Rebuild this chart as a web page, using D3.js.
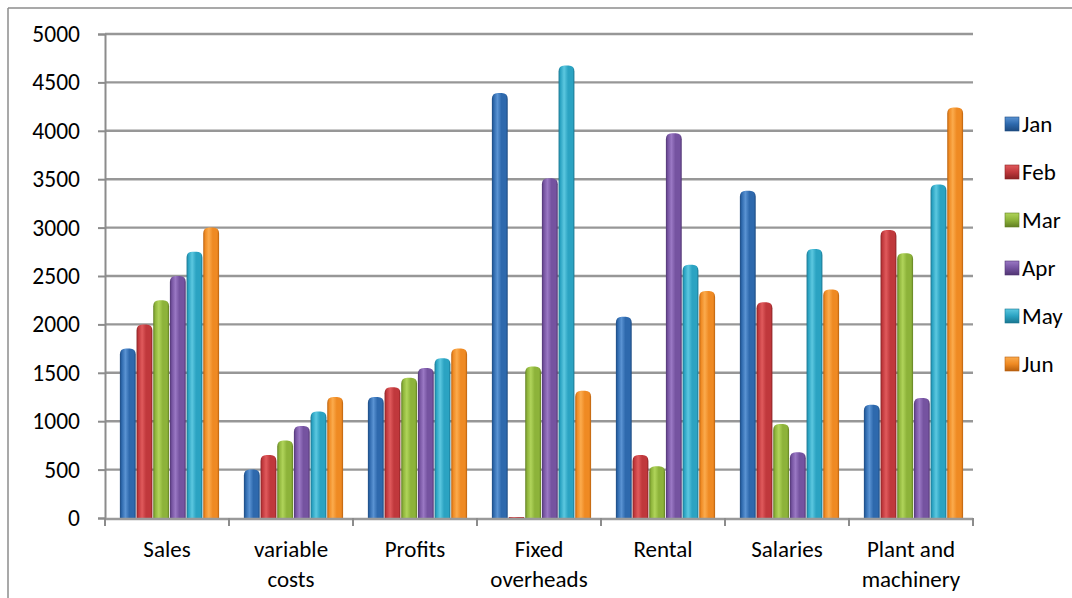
<!DOCTYPE html>
<html>
<head>
<meta charset="utf-8">
<script src="https://cdn.jsdelivr.net/npm/d3@7"></script>
<style>
  html, body { margin: 0; padding: 0; background: #fff; }
  svg { display: block; font-family: Carlito, Lato, "Open Sans", sans-serif; }
</style>
</head>
<body>
<svg id="chart" width="1072" height="598"></svg>
<script>
// Monthly cost breakdown by category
const categories = [
  ["Sales"],
  ["variable", "costs"],
  ["Profits"],
  ["Fixed", "overheads"],
  ["Rental"],
  ["Salaries"],
  ["Plant and", "machinery"]
];
const months = ["Jan", "Feb", "Mar", "Apr", "May", "Jun"];

const jan = [1750, 500, 1250, 4390, 2080, 3380, 1170];
const feb = [2000, 650, 1350, 10, 650, 2230, 2975];
const mar = [2250, 800, 1450, 1565, 535, 970, 2735];
const apr = [2500, 950, 1550, 3510, 3975, 680, 1240];
const may = [2750, 1100, 1650, 4675, 2615, 2780, 3445];
const jun = [3000, 1250, 1750, 1315, 2345, 2360, 4240];
const seriesValues = [jan, feb, mar, apr, may, jun];

const yTicks = [0, 500, 1000, 1500, 2000, 2500, 3000, 3500, 4000, 4500, 5000];

const palette = [
  { base: "#2e69ad", light: "#5a93d3", dark: "#1d4a80" },
  { base: "#c0383c", light: "#e05a5c", dark: "#8a2224" },
  { base: "#8db33a", light: "#b0d45a", dark: "#617f22" },
  { base: "#7553a0", light: "#9a78c4", dark: "#503572" },
  { base: "#2ba3c2", light: "#5cc8e0", dark: "#1a7690" },
  { base: "#ef8a23", light: "#fbab4d", dark: "#b8600e" }
];

const svg = d3.select("#chart");
const plot = { left: 105, right: 973, top: 34, bottom: 518 };

const x0 = d3.scaleBand()
  .domain(d3.range(categories.length))
  .range([plot.left, plot.right])
  .paddingInner(0).paddingOuter(0);
const bw = x0.bandwidth();
const x1 = d3.scaleBand()
  .domain(d3.range(months.length))
  .range([bw * 0.12, bw * 0.92])
  .paddingInner(0.05);
const y = d3.scaleLinear().domain([0, 5000]).range([plot.bottom, plot.top]);

// gradients giving the bars a rounded, bevelled look
const defs = svg.append("defs");
palette.forEach((c, i) => {
  const g = defs.append("linearGradient").attr("id", "bar" + i)
    .attr("x1", "0").attr("x2", "1").attr("y1", "0").attr("y2", "0");
  g.append("stop").attr("offset", "0").attr("stop-color", c.dark);
  g.append("stop").attr("offset", "0.12").attr("stop-color", c.base);
  g.append("stop").attr("offset", "0.35").attr("stop-color", c.light);
  g.append("stop").attr("offset", "0.6").attr("stop-color", c.base);
  g.append("stop").attr("offset", "0.88").attr("stop-color", c.base);
  g.append("stop").attr("offset", "1").attr("stop-color", c.dark);
  const lg = defs.append("linearGradient").attr("id", "leg" + i)
    .attr("x1", "0").attr("x2", "0").attr("y1", "0").attr("y2", "1");
  lg.append("stop").attr("offset", "0").attr("stop-color", c.light);
  lg.append("stop").attr("offset", "0.5").attr("stop-color", c.base);
  lg.append("stop").attr("offset", "1").attr("stop-color", c.dark);
});

// outer frame (top and left edges visible)
svg.append("line").attr("x1", 8).attr("x2", 1072).attr("y1", 8).attr("y2", 8)
  .attr("stroke", "#8c8c8c").attr("stroke-width", 1.5);
svg.append("line").attr("x1", 8).attr("x2", 8).attr("y1", 8).attr("y2", 598)
  .attr("stroke", "#8c8c8c").attr("stroke-width", 1.5);

// horizontal gridlines
svg.append("g").selectAll("line").data(yTicks.filter(d => d > 0)).join("line")
  .attr("x1", plot.left).attr("x2", plot.right)
  .attr("y1", d => y(d)).attr("y2", d => y(d))
  .attr("stroke", "#979797").attr("stroke-width", 2.4);

// y axis
const yAxis = svg.append("g").attr("transform", `translate(${plot.left},0)`)
  .call(d3.axisLeft(y).tickValues(yTicks).tickSize(7).tickPadding(18).tickFormat(d3.format("d")));
yAxis.select(".domain").attr("stroke", "#8c8c8c").attr("stroke-width", 2);
yAxis.selectAll(".tick line").attr("stroke", "#8c8c8c").attr("stroke-width", 2);
yAxis.selectAll(".tick text").attr("font-size", 23.5).attr("fill", "#000")
  .attr("font-family", "Carlito, Lato, sans-serif");

// bars
const groups = svg.append("g").selectAll("g").data(categories).join("g")
  .attr("transform", (d, i) => `translate(${x0(i)},0)`);

function barPath(x, w, top, bottom) {
  const r = Math.min(w / 2, 6, Math.max(bottom - top, 0));
  return `M${x},${bottom}V${top + r}Q${x},${top} ${x + r},${top}H${x + w - r}Q${x + w},${top} ${x + w},${top + r}V${bottom}Z`;
}

groups.each(function (cat, ci) {
  d3.select(this).selectAll("path").data(months).join("path")
    .attr("d", (m, si) => barPath(x1(si), x1.bandwidth(), y(seriesValues[si][ci]), y(0)))
    .attr("fill", (m, si) => `url(#bar${si})`);
});

// x axis line and category ticks
svg.append("line").attr("x1", plot.left).attr("x2", plot.right)
  .attr("y1", plot.bottom + 1).attr("y2", plot.bottom + 1)
  .attr("stroke", "#9a9a9a").attr("stroke-width", 2.5);
svg.append("g").selectAll("line").data(d3.range(categories.length + 1)).join("line")
  .attr("x1", i => plot.left + i * bw).attr("x2", i => plot.left + i * bw)
  .attr("y1", plot.bottom).attr("y2", plot.bottom + 8)
  .attr("stroke", "#8c8c8c").attr("stroke-width", 2);

// category labels
const labels = svg.append("g").selectAll("text").data(categories).join("text")
  .attr("text-anchor", "middle")
  .attr("font-size", 23)
  .attr("fill", "#000");
labels.each(function (lines, i) {
  d3.select(this).selectAll("tspan").data(lines).join("tspan")
    .attr("x", x0(i) + bw / 2)
    .attr("y", (l, k) => 557 + k * 30)
    .text(l => l);
});

// legend
const legend = svg.append("g").selectAll("g").data(months).join("g")
  .attr("transform", (d, i) => `translate(1005,${117 + i * 48})`);
legend.append("rect").attr("width", 14).attr("height", 14)
  .attr("fill", (d, i) => `url(#leg${i})`)
  .attr("stroke", (d, i) => palette[i].dark).attr("stroke-width", 0.6);
legend.append("text").attr("x", 17).attr("y", 15)
  .attr("font-size", 23).attr("fill", "#000").text(d => d);
</script>
</body>
</html>
